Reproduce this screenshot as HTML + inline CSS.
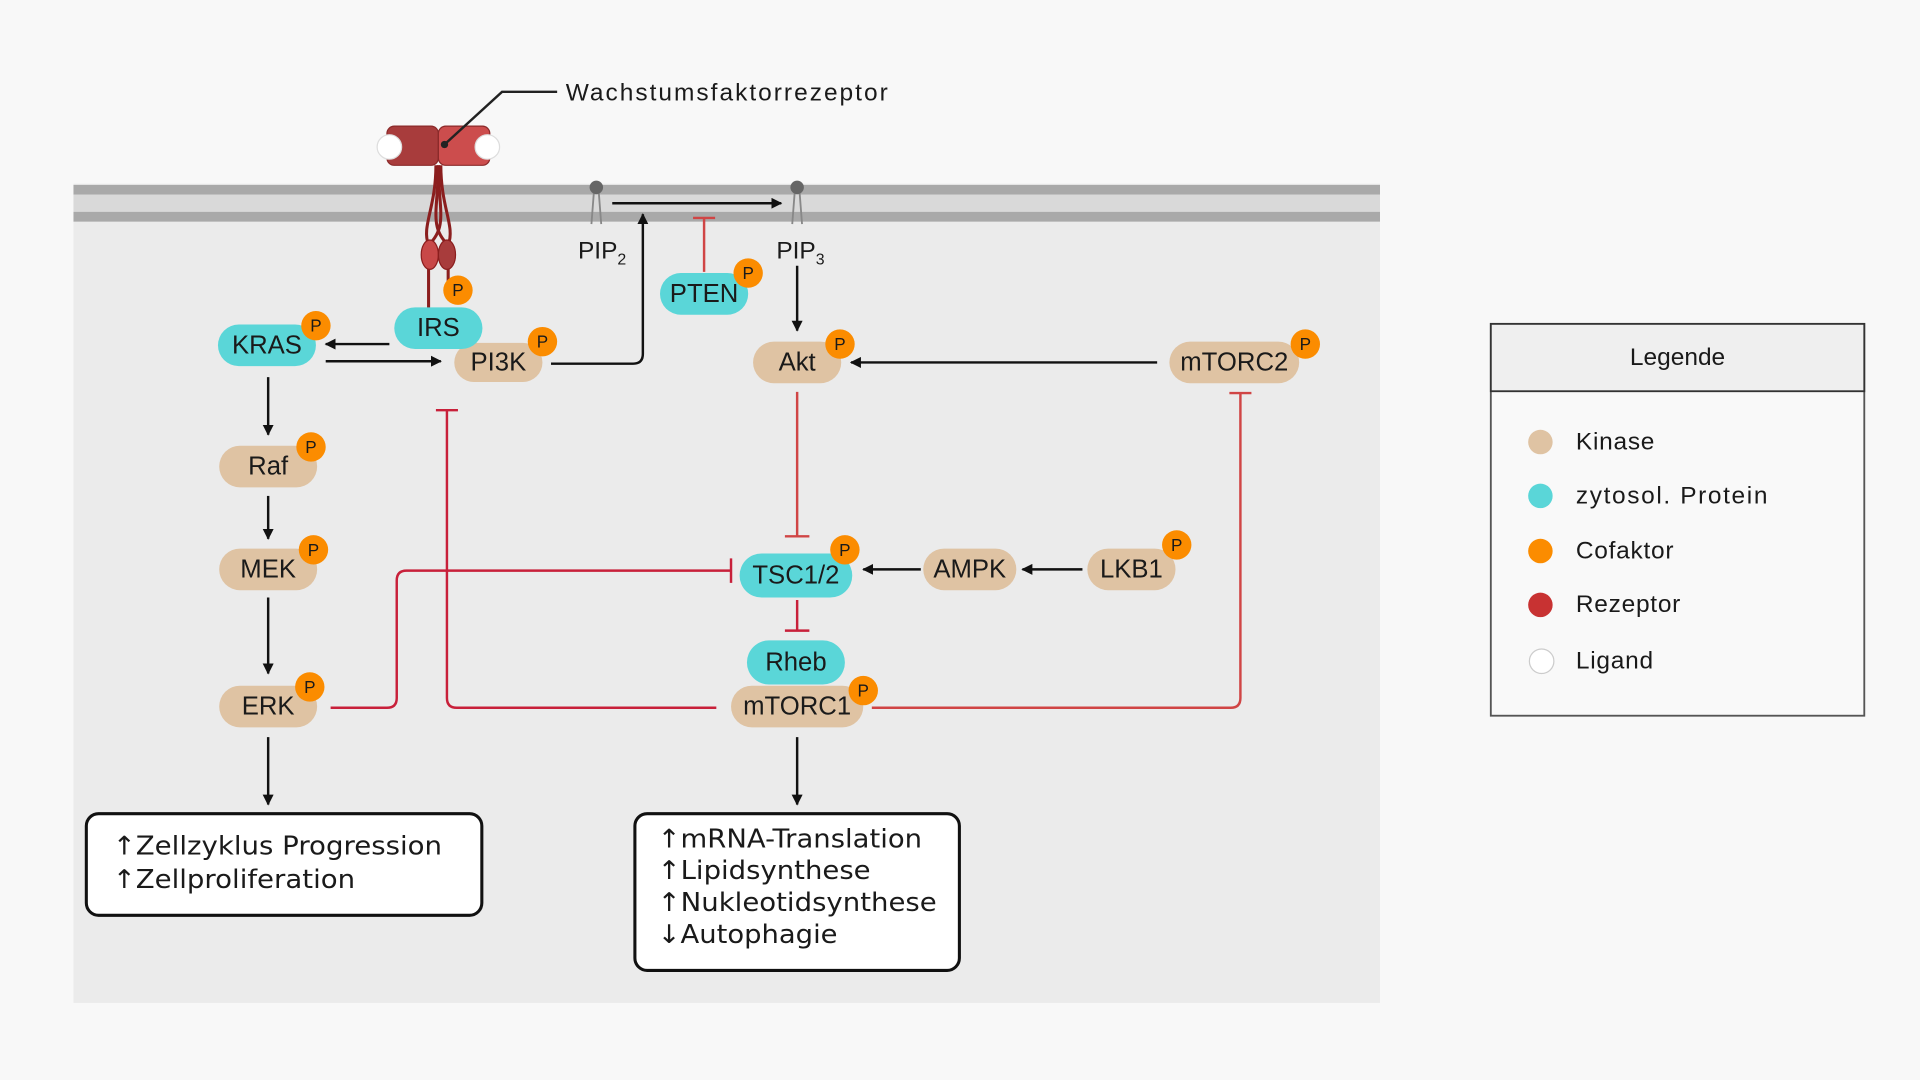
<!DOCTYPE html>
<html><head><meta charset="utf-8"><style>
html,body{margin:0;padding:0;width:1920px;height:1080px;overflow:hidden;background:#f8f8f8}
svg{display:block}
text{font-family:"Liberation Sans",sans-serif;fill:#1a1a1a}
.n{font-size:21px;text-anchor:middle;dominant-baseline:central}
.p{font-size:14px;text-anchor:middle;dominant-baseline:central}
.b{font-family:"DejaVu Sans",sans-serif;font-size:21px}
.l{font-size:20px;letter-spacing:0.6px}
</style></head><body>
<svg width="1920" height="1080" viewBox="0 0 1568 882" xmlns="http://www.w3.org/2000/svg">
<defs>
<marker id="a" viewBox="0 0 10 10" refX="9" refY="5" markerWidth="9" markerHeight="9" markerUnits="userSpaceOnUse" orient="auto"><path d="M0,0 L10,5 L0,10 z" fill="#111"/></marker>
</defs>
<rect x="0" y="0" width="1568" height="882" fill="#f8f8f8"/>
<rect x="60" y="150" width="1067" height="669" fill="#ebebeb"/>
<rect x="60" y="151" width="1067" height="8" fill="#a9a9a9"/>
<rect x="60" y="159" width="1067" height="14" fill="#d9d9d9"/>
<rect x="60" y="173" width="1067" height="8" fill="#a9a9a9"/>

<g stroke="#8b1e1e" stroke-width="2.5" fill="none">
<path d="M356,135 C356,170 344,185 350,200"/><path d="M360,135 C360,170 372,185 366,200"/>
<path d="M358,135 C358,170 366,185 350,200"/><path d="M358,135 C358,170 350,185 366,200"/>
<path d="M350,215 L350,252"/><path d="M366,215 L366,240"/>
</g>
<ellipse cx="351" cy="208" rx="7" ry="12" fill="#c84848" stroke="#8b1e1e"/>
<ellipse cx="365" cy="208" rx="7" ry="12" fill="#a83c3c" stroke="#8b1e1e"/>
<rect x="316" y="103" width="42" height="32" rx="6" fill="#a83c3c" stroke="#8b2a2a"/>
<rect x="358" y="103" width="42" height="32" rx="6" fill="#cc4d4d" stroke="#8b2a2a"/>
<circle cx="318" cy="120" r="10" fill="#fff" stroke="#ddd"/>
<circle cx="398" cy="120" r="10" fill="#fff" stroke="#ddd"/>
<path d="M363,118 L410,75 L455,75" stroke="#222" stroke-width="2" fill="none"/>
<circle cx="363" cy="118" r="3" fill="#222"/>
<text x="462" y="82" style="font-size:20px" textLength="263" lengthAdjust="spacing">Wachstumsfaktorrezeptor</text>

<g stroke="#888" stroke-width="1.5"><path d="M485,157 L483,183 M489,157 L491,183 M649,157 L647,183 M653,157 L655,183"/></g>
<circle cx="487" cy="153" r="5.5" fill="#666"/><circle cx="651" cy="153" r="5.5" fill="#666"/>
<text x="472" y="211" style="font-size:20px">PIP<tspan style="font-size:13px" dy="5">2</tspan></text>
<text x="634" y="211" style="font-size:20px">PIP<tspan style="font-size:13px" dy="5">3</tspan></text>

<g stroke="#111" stroke-width="2" fill="none" marker-end="url(#a)">
<path d="M500,166 L638,166"/>
<path d="M318,281 L266,281"/>
<path d="M266,295 L360,295"/>
<path d="M450,297 L517,297 Q525,297 525,289 L525,175"/>
<path d="M651,217 L651,270"/>
<path d="M945,296 L695,296"/>
<path d="M752,465 L705,465"/>
<path d="M884,465 L835,465"/>
<path d="M219,308 L219,355"/>
<path d="M219,405 L219,440"/>
<path d="M219,488 L219,550"/>
<path d="M219,602 L219,657"/>
<path d="M651,602 L651,657"/>
</g>
<g stroke="#c8203a" stroke-width="2" fill="none">
<path d="M575,222 L575,178 M566,178 L584,178" stroke="#d04545"/>
<path d="M651,320 L651,438 M641,438 L661,438" stroke="#d04545"/>
<path d="M651,490 L651,515 M641,515 L661,515"/>
<path d="M270,578 L316,578 Q324,578 324,570 L324,474 Q324,466 332,466 L597,466 M597,456 L597,476"/>
<path d="M585,578 L373,578 Q365,578 365,570 L365,335 M356,335 L374,335"/>
<path d="M712,578 L1005,578 Q1013,578 1013,570 L1013,321 M1004,321 L1022,321" stroke="#d04545"/>
</g>

<g>
<rect x="178" y="265" width="80" height="34" rx="17" fill="#5ad6d8"/><text class="n" x="218" y="282">KRAS</text>
<rect x="371" y="280" width="72" height="32" rx="16" fill="#dfc3a3"/><text class="n" x="407" y="296">PI3K</text>
<rect x="322" y="251" width="72" height="34" rx="17" fill="#5ad6d8"/><text class="n" x="358" y="268">IRS</text>
<rect x="539" y="223" width="72" height="34" rx="17" fill="#5ad6d8"/><text class="n" x="575" y="240">PTEN</text>
<rect x="615" y="279" width="72" height="34" rx="17" fill="#dfc3a3"/><text class="n" x="651" y="296">Akt</text>
<rect x="955" y="279" width="106" height="34" rx="17" fill="#dfc3a3"/><text class="n" x="1008" y="296">mTORC2</text>
<rect x="179" y="364" width="80" height="34" rx="17" fill="#dfc3a3"/><text class="n" x="219" y="381">Raf</text>
<rect x="179" y="448" width="80" height="34" rx="17" fill="#dfc3a3"/><text class="n" x="219" y="465">MEK</text>
<rect x="179" y="560" width="80" height="34" rx="17" fill="#dfc3a3"/><text class="n" x="219" y="577">ERK</text>
<rect x="604" y="452" width="92" height="36" rx="18" fill="#5ad6d8"/><text class="n" x="650" y="470">TSC1/2</text>
<rect x="754" y="448" width="76" height="34" rx="17" fill="#dfc3a3"/><text class="n" x="792" y="465">AMPK</text>
<rect x="888" y="448" width="72" height="34" rx="17" fill="#dfc3a3"/><text class="n" x="924" y="465">LKB1</text>
<rect x="610" y="523" width="80" height="36" rx="18" fill="#5ad6d8"/><text class="n" x="650" y="541">Rheb</text>
<rect x="597" y="560" width="108" height="34" rx="17" fill="#dfc3a3"/><text class="n" x="651" y="577">mTORC1</text>
</g>
<g fill="#fb8c00">
<circle cx="258" cy="266" r="12"/><circle cx="374" cy="237" r="12"/><circle cx="443" cy="279" r="12"/>
<circle cx="611" cy="223" r="12"/><circle cx="686" cy="281" r="12"/><circle cx="1066" cy="281" r="12"/>
<circle cx="254" cy="365" r="12"/><circle cx="256" cy="449" r="12"/><circle cx="253" cy="561" r="12"/>
<circle cx="690" cy="449" r="12"/><circle cx="961" cy="445" r="12"/><circle cx="705" cy="564" r="12"/>
</g>
<g>
<text class="p" x="258" y="266">P</text><text class="p" x="374" y="237">P</text><text class="p" x="443" y="279">P</text>
<text class="p" x="611" y="223">P</text><text class="p" x="686" y="281">P</text><text class="p" x="1066" y="281">P</text>
<text class="p" x="254" y="365">P</text><text class="p" x="256" y="449">P</text><text class="p" x="253" y="561">P</text>
<text class="p" x="690" y="449">P</text><text class="p" x="961" y="445">P</text><text class="p" x="705" y="564">P</text>
</g>

<rect x="70.5" y="664.5" width="323" height="83" rx="10" fill="#fff" stroke="#111" stroke-width="2.5"/>
<text class="b" x="92" y="698" textLength="269" lengthAdjust="spacingAndGlyphs">↑Zellzyklus Progression</text>
<text class="b" x="92" y="725" textLength="198" lengthAdjust="spacingAndGlyphs">↑Zellproliferation</text>
<rect x="518.5" y="664.5" width="265" height="128" rx="10" fill="#fff" stroke="#111" stroke-width="2.5"/>
<text class="b" x="537" y="692" textLength="216" lengthAdjust="spacingAndGlyphs">↑mRNA-Translation</text>
<text class="b" x="537" y="718" textLength="174" lengthAdjust="spacingAndGlyphs">↑Lipidsynthese</text>
<text class="b" x="537" y="744" textLength="228" lengthAdjust="spacingAndGlyphs">↑Nukleotidsynthese</text>
<text class="b" x="537" y="770" textLength="147" lengthAdjust="spacingAndGlyphs">↓Autophagie</text>

<rect x="1217.5" y="264.5" width="305" height="320" fill="#f9f9f9" stroke="#555" stroke-width="1.5"/>
<rect x="1217.5" y="264.5" width="305" height="55" fill="#efefef" stroke="#333" stroke-width="1.5"/>
<text x="1370" y="298" style="font-size:20px;text-anchor:middle">Legende</text>
<circle cx="1258" cy="361" r="10" fill="#dfc3a3"/><text class="l" x="1287" y="367">Kinase</text>
<circle cx="1258" cy="405" r="10" fill="#5ad6d8"/><text class="l" x="1287" y="411" textLength="157" lengthAdjust="spacing">zytosol. Protein</text>
<circle cx="1258" cy="450" r="10" fill="#fb8c00"/><text class="l" x="1287" y="456">Cofaktor</text>
<circle cx="1258" cy="494" r="10" fill="#c83232"/><text class="l" x="1287" y="500">Rezeptor</text>
<circle cx="1259" cy="540" r="10" fill="#fff" stroke="#ccc"/><text class="l" x="1287" y="546">Ligand</text>
</svg>
</body></html>
